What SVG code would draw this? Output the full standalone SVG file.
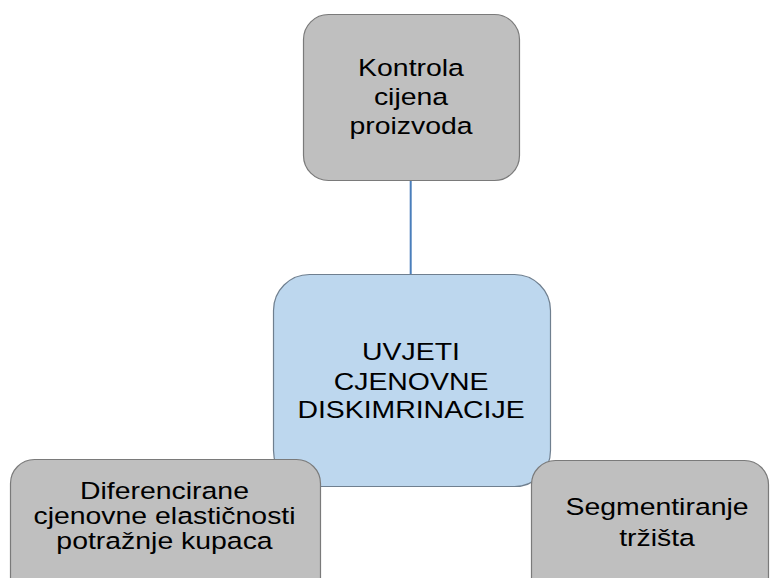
<svg xmlns="http://www.w3.org/2000/svg" width="771" height="578" viewBox="0 0 771 578">
<style>
.gray{fill:#bfbfbf;stroke:#7a7a7a;stroke-width:1.2}
.blue{fill:#bdd7ee;stroke:#6f7f8f;stroke-width:1.2}
.t{font-family:"Liberation Sans",Arial,sans-serif;font-size:24.5px;fill:#000;text-anchor:middle}
.conn{stroke:#4a7ebb;stroke-width:2;fill:none}
</style>
<rect width="771" height="578" fill="#fff"/>
<g id="connectors">
<line class="conn" x1="410.7" y1="180" x2="410.7" y2="275"/>
</g>
<g id="node-top">
<rect class="gray" x="303.5" y="14.5" width="216" height="166" rx="25" ry="25"/>
<g transform="translate(411,0) scale(1.16,1)">
<text class="t" x="0" y="76.5">Kontrola</text>
<text class="t" x="0" y="105.5">cijena</text>
<text class="t" x="0" y="134">proizvoda</text>
</g>
</g>
<g id="node-center">
<rect class="blue" x="273.5" y="274.5" width="277" height="212" rx="36" ry="36"/>
<g transform="translate(411,0) scale(1.16,1)">
<text class="t" x="0" y="360.5">UVJETI</text>
<text class="t" x="0" y="389.5">CJENOVNE</text>
<text class="t" x="0" y="418.3">DISKIMRINACIJE</text>
</g>
</g>
<g id="node-left">
<rect class="gray" x="10.5" y="459.5" width="310" height="150" rx="24" ry="24"/>
<g transform="translate(164.5,0) scale(1.16,1)">
<text class="t" x="0" y="499.5">Diferencirane</text>
<text class="t" x="0" y="524">cjenovne elastičnosti</text>
<text class="t" x="0" y="548.7">potražnje kupaca</text>
</g>
</g>
<g id="node-right">
<rect class="gray" x="531.5" y="460.5" width="237" height="150" rx="24" ry="24"/>
<g transform="translate(657,0) scale(1.16,1)">
<text class="t" x="0" y="515">Segmentiranje</text>
<text class="t" x="0" y="546">tržišta</text>
</g>
</g>
</svg>
